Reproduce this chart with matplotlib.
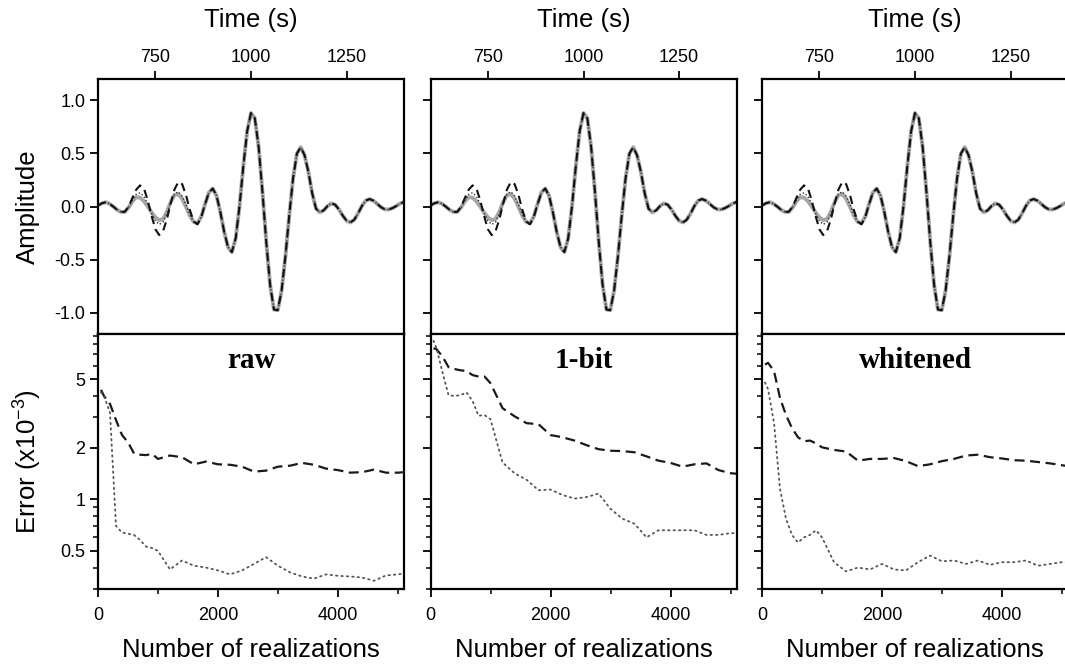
import matplotlib
matplotlib.use("Agg")
import matplotlib.pyplot as plt
from matplotlib.ticker import FixedLocator, NullFormatter, FixedFormatter

plt.rcParams['font.family'] = ['Liberation Sans', 'DejaVu Sans']
plt.rcParams['mathtext.default'] = 'regular'

# ---------------- data ----------------
time_s = list(range(600, 1401, 10))

# reference waveform (grey)
amp_ref = [0.010, 0.030, 0.040, 0.026, -0.001, -0.031, -0.051, -0.051, -0.010, 0.050,
           0.088, 0.083, 0.050, 0.000, -0.056, -0.103, -0.128, -0.118, -0.051, 0.041,
           0.108, 0.116, 0.073, -0.003, -0.085, -0.144, -0.158, -0.095, 0.024, 0.132,
           0.169, 0.101, -0.055, -0.240, -0.383, -0.429, -0.299, 0.004, 0.382, 0.710,
           0.880, 0.831, 0.560, 0.135, -0.338, -0.740, -0.970, -0.976, -0.792, -0.469,
           -0.084, 0.266, 0.498, 0.558, 0.483, 0.326, 0.125, -0.020, -0.055, -0.036,
           0.004, 0.029, 0.017, -0.028, -0.087, -0.134, -0.150, -0.124, -0.065, 0.005,
           0.056, 0.070, 0.055, 0.025, -0.007, -0.027, -0.028, -0.015, 0.005, 0.028,
           0.042]

# estimate with dotted line
amp_dotted = [0.010, 0.030, 0.040, 0.026, -0.001, -0.031, -0.051, -0.051, -0.009, 0.058,
              0.114, 0.130, 0.095, 0.023, -0.063, -0.135, -0.169, -0.147, -0.067, 0.037,
              0.117, 0.139, 0.099, 0.016, -0.077, -0.146, -0.163, -0.097, 0.024, 0.132,
              0.169, 0.101, -0.055, -0.240, -0.383, -0.429, -0.299, 0.004, 0.382, 0.710,
              0.880, 0.831, 0.560, 0.135, -0.338, -0.740, -0.970, -0.976, -0.792, -0.469,
              -0.084, 0.266, 0.498, 0.558, 0.483, 0.326, 0.125, -0.020, -0.055, -0.036,
              0.004, 0.029, 0.017, -0.028, -0.087, -0.134, -0.150, -0.124, -0.065, 0.005,
              0.056, 0.070, 0.055, 0.025, -0.007, -0.027, -0.028, -0.015, 0.005, 0.028,
              0.042]

# estimate with dashed line
amp_dashed = [0.010, 0.030, 0.040, 0.026, -0.001, -0.031, -0.051, -0.050, -0.001, 0.081,
              0.159, 0.199, 0.170, 0.060, -0.087, -0.214, -0.269, -0.233, -0.121, 0.028,
              0.161, 0.231, 0.211, 0.108, -0.030, -0.139, -0.168, -0.100, 0.022, 0.132,
              0.169, 0.101, -0.055, -0.240, -0.383, -0.429, -0.299, 0.004, 0.382, 0.710,
              0.880, 0.831, 0.560, 0.135, -0.338, -0.740, -0.970, -0.976, -0.792, -0.469,
              -0.084, 0.266, 0.498, 0.558, 0.483, 0.326, 0.125, -0.020, -0.055, -0.036,
              0.004, 0.029, 0.017, -0.028, -0.087, -0.134, -0.150, -0.124, -0.065, 0.005,
              0.056, 0.070, 0.055, 0.025, -0.007, -0.027, -0.028, -0.015, 0.005, 0.028,
              0.042]

n_real = [50, 100, 200, 300, 400, 500, 600, 700, 800, 900, 1000,
          1200, 1400, 1600, 1800, 2000, 2200, 2400, 2600, 2800, 3000,
          3200, 3400, 3600, 3800, 4000, 4200, 4400, 4600, 4800, 5000, 5100]

panel_titles = ['raw', '1-bit', 'whitened']

err_dashed_raw = [4.35, 4.0, 3.6, 2.9, 2.37, 2.15, 1.85, 1.82, 1.81, 1.84, 1.72,
                  1.80, 1.76, 1.60, 1.66, 1.60, 1.59, 1.55, 1.45, 1.47, 1.55,
                  1.57, 1.63, 1.59, 1.51, 1.48, 1.43, 1.44, 1.49, 1.43, 1.43, 1.44]
err_dotted_raw = [4.2, 4.0, 3.2, 0.70, 0.64, 0.63, 0.62, 0.58, 0.53, 0.52, 0.50,
                  0.39, 0.44, 0.41, 0.40, 0.385, 0.365, 0.385, 0.42, 0.46, 0.41,
                  0.375, 0.355, 0.345, 0.365, 0.358, 0.355, 0.35, 0.335, 0.36, 0.365, 0.37]

err_dashed_1bit = [7.6, 7.5, 6.8, 5.9, 5.75, 5.65, 5.6, 5.3, 5.2, 5.2, 4.75,
                   3.4, 3.05, 2.78, 2.74, 2.37, 2.30, 2.20, 2.07, 1.96, 1.92,
                   1.91, 1.88, 1.78, 1.68, 1.63, 1.55, 1.60, 1.62, 1.48, 1.42, 1.41]
err_dotted_1bit = [8.4, 7.6, 5.5, 4.05, 4.0, 4.05, 4.2, 3.75, 3.07, 3.1, 2.93,
                   1.64, 1.42, 1.30, 1.13, 1.14, 1.06, 1.01, 1.03, 1.08, 0.88,
                   0.77, 0.72, 0.60, 0.66, 0.66, 0.66, 0.66, 0.62, 0.62, 0.635, 0.635]

err_dashed_wh = [6.1, 6.25, 5.6, 3.9, 3.1, 2.6, 2.3, 2.18, 2.20, 2.12, 2.01,
                 1.94, 1.90, 1.68, 1.72, 1.72, 1.74, 1.67, 1.56, 1.60, 1.67,
                 1.72, 1.80, 1.82, 1.76, 1.73, 1.69, 1.68, 1.65, 1.62, 1.58, 1.56]
err_dotted_wh = [4.8, 4.4, 2.8, 1.15, 0.77, 0.62, 0.56, 0.60, 0.62, 0.66, 0.60,
                 0.43, 0.38, 0.40, 0.39, 0.42, 0.39, 0.385, 0.43, 0.47, 0.435,
                 0.44, 0.42, 0.44, 0.415, 0.43, 0.43, 0.44, 0.41, 0.42, 0.43, 0.43]

err_dashed = [err_dashed_raw, err_dashed_1bit, err_dashed_wh]
err_dotted = [err_dotted_raw, err_dotted_1bit, err_dotted_wh]

time_ticks = [750, 1000, 1250]
amp_ticks = [-1.0, -0.5, 0.0, 0.5, 1.0]
amp_tick_labels = ['-1.0', '-0.5', '0.0', '0.5', '1.0']
err_major = [0.5, 1, 2, 5]
err_major_labels = ['0.5', '1', '2', '5']
err_minor = [0.3, 0.4, 0.6, 0.7, 0.8, 0.9, 3, 4, 6, 7, 8, 9]
n_major = [0, 2000, 4000]
n_major_labels = ['0', '2000', '4000']
n_minor = [1000, 3000, 5000]

# ---------------- figure ----------------
W, H = 1065, 666
fig = plt.figure(figsize=(W / 100, H / 100), dpi=100)

left_px = [98, 430.5, 762]
width_px = 306
top_px, mid_px, bot_px = 79, 334, 589

SP = 1.6
tick_fs = 13
label_fs = 18.5

for i in range(3):
    x0 = left_px[i] / W
    w = width_px / W
    axu = fig.add_axes([x0, 1 - mid_px / H, w, (mid_px - top_px) / H])
    axl = fig.add_axes([x0, 1 - bot_px / H, w, (bot_px - mid_px) / H])

    # ---- upper: waveforms ----
    axu.plot(time_s, amp_ref, color='#a6a6a6', lw=2.8, solid_capstyle='round', zorder=2)
    axu.plot(time_s, amp_dotted, color='#333333', lw=1.0, linestyle=(0, (1, 1.6)), zorder=3)
    axu.plot(time_s, amp_dashed, color='#111111', lw=1.5, linestyle=(0, (4, 2.5)), zorder=4)
    axu.set_xlim(600, 1400)
    axu.set_ylim(-1.2, 1.2)
    axu.xaxis.set_ticks_position('top')
    axu.xaxis.set_major_locator(FixedLocator(time_ticks))
    axu.yaxis.set_major_locator(FixedLocator(amp_ticks))
    axu.tick_params(axis='x', which='major', direction='out', length=6, width=1.3,
                    pad=3, labelsize=tick_fs, top=True, bottom=False)
    axu.tick_params(axis='y', which='major', direction='out', length=6, width=1.3,
                    pad=3, labelsize=tick_fs, left=True, right=False)
    axu.set_xlabel('Time (s)', fontsize=label_fs)
    axu.xaxis.set_label_position('top')
    axu.xaxis.label.set_va('center')
    axu.xaxis.set_label_coords(0.5, 1 + (top_px - 20) / (mid_px - top_px))
    if i == 0:
        axu.set_ylabel('Amplitude', fontsize=label_fs)
        axu.yaxis.label.set_va('center')
        axu.yaxis.set_label_coords((28 - 98) / width_px, 0.5)
        axu.yaxis.set_major_formatter(FixedFormatter(amp_tick_labels))
    else:
        axu.tick_params(axis='y', labelleft=False)
    for s in axu.spines.values():
        s.set_linewidth(SP)

    # ---- lower: errors ----
    axl.plot(n_real, err_dashed[i], color='#1a1a1a', lw=1.6, linestyle=(0, (4.5, 2.5)), zorder=3)
    axl.plot(n_real, err_dotted[i], color='#555555', lw=1.3, linestyle=(0, (0.8, 2.2)),
             dash_capstyle='round', zorder=3)
    axl.set_yscale('log')
    axl.set_xlim(0, 5100)
    axl.set_ylim(0.3, 9.2)
    axl.yaxis.set_major_locator(FixedLocator(err_major))
    axl.yaxis.set_minor_locator(FixedLocator(err_minor))
    axl.yaxis.set_minor_formatter(NullFormatter())
    axl.xaxis.set_major_locator(FixedLocator(n_major))
    axl.xaxis.set_minor_locator(FixedLocator(n_minor))
    axl.tick_params(axis='both', which='major', direction='out', length=6, width=1.3,
                    labelsize=tick_fs)
    axl.tick_params(axis='both', which='minor', direction='out', length=3.5, width=1.1)
    axl.tick_params(axis='x', which='major', pad=7)
    axl.tick_params(axis='y', which='major', pad=3)
    axl.tick_params(axis='both', which='both', top=False, right=False)
    axl.xaxis.set_major_formatter(FixedFormatter(n_major_labels))
    if i == 0:
        axl.yaxis.set_major_formatter(FixedFormatter(err_major_labels))
        axl.set_ylabel('Error (x10$^{-3}$)', fontsize=label_fs)
        axl.yaxis.label.set_va('center')
        axl.yaxis.set_label_coords((28 - 98) / width_px, 0.5)
    else:
        axl.tick_params(axis='y', which='both', labelleft=False)
    axl.set_xlabel('Number of realizations', fontsize=label_fs)
    axl.xaxis.label.set_va('center')
    axl.xaxis.set_label_coords(0.5, -(650 - bot_px) / (bot_px - mid_px))
    axl.text(0.5, 1 - (360 - mid_px) / (bot_px - mid_px), panel_titles[i],
             transform=axl.transAxes, ha='center', va='center',
             fontsize=21, fontweight='bold', family=['Liberation Serif', 'DejaVu Serif'])
    for s in axl.spines.values():
        s.set_linewidth(SP)

fig.savefig('out.png', dpi=100)
